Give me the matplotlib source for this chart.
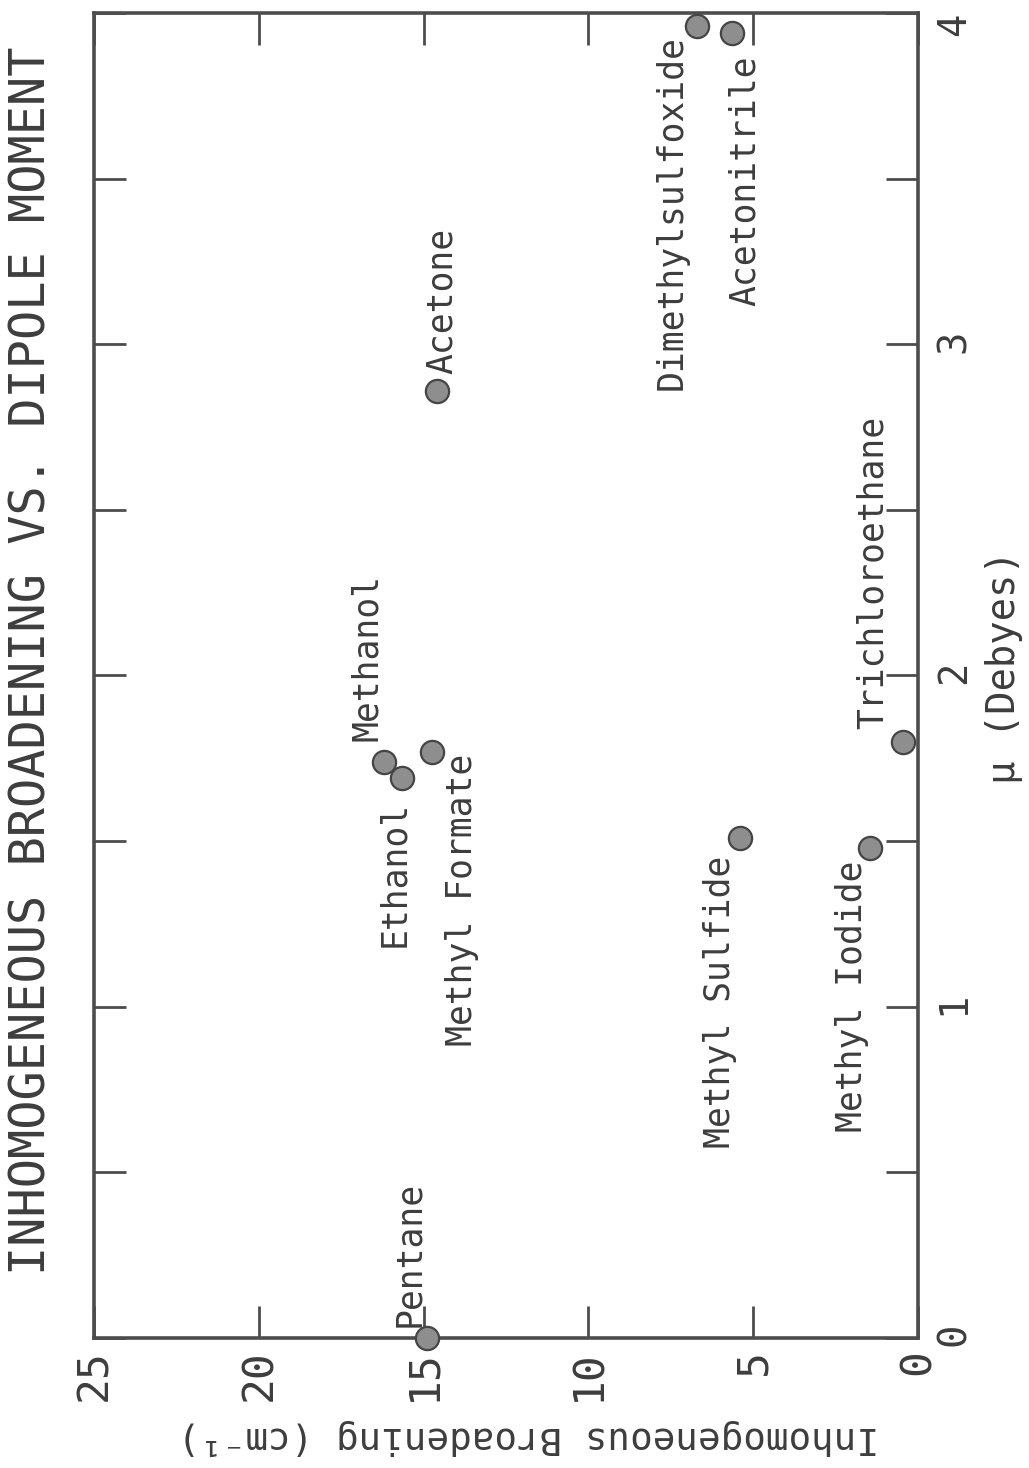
"""
Inhomogeneous broadening of each solvent against its dipole moment.
The page is laid out in landscape and turned on its side, so the
broadening axis runs along the bottom (25 -> 0) and mu runs up the right.
"""
import matplotlib
matplotlib.use("Agg")
import matplotlib.pyplot as plt
from matplotlib.ticker import MultipleLocator

solvents = [
    "Pentane", "Ethanol", "Methanol", "Methyl Formate", "Acetone",
    "Dimethylsulfoxide", "Acetonitrile", "Methyl Sulfide",
    "Methyl Iodide", "Trichloroethane",
]
broadening = [14.9, 15.65, 16.2, 14.75, 14.6, 6.7, 5.65, 5.4, 1.45, 0.45]  # cm^-1
dipole = [0.0, 1.69, 1.74, 1.77, 2.86, 3.96, 3.94, 1.51, 1.48, 1.80]      # Debyes

broadening_ticks = [0, 5, 10, 15, 20, 25]
dipole_ticks = [0, 1, 2, 3, 4]

# where each name sits next to its point: (dx, dy) in pixels, vertical align
label_place = {
    "Pentane": (-18, 11, "bottom"),
    "Ethanol": (-8, -23, "top"),
    "Methanol": (-17, 21, "bottom"),
    "Methyl Formate": (30, -2, "top"),
    "Acetone": (5, 17, "bottom"),
    "Dimethylsulfoxide": (-26, -9, "top"),
    "Acetonitrile": (13, -23, "top"),
    "Methyl Sulfide": (-20, -18, "top"),
    "Methyl Iodide": (-18, -13, "top"),
    "Trichloroethane": (-30, 13, "bottom"),
}

INK = "#3d3d3d"
FONT = ["DejaVu Sans Mono", "DejaVu Sans"]
plt.rcParams["font.family"] = FONT


def draw(out_file):
    fig = plt.figure(figsize=(10.29, 14.68), dpi=100)
    ax = fig.add_axes([0.0914, 0.0886, 0.8008, 0.9026])

    ax.scatter(broadening, dipole, s=280, facecolor="#8e8e8e",
               edgecolor="#454545", linewidth=1.6, zorder=3, clip_on=False)

    for name, b, mu in zip(solvents, broadening, dipole):
        dx, dy, va = label_place[name]
        ax.annotate(name, xy=(b, mu), xytext=(dx, dy), textcoords="offset pixels",
                    rotation=90, ha="center", va=va, fontsize=25, color=INK)

    ax.set_xlim(25, 0)
    ax.set_ylim(0, 4)

    ax.set_xticks(broadening_ticks)
    ax.set_yticks(dipole_ticks)
    ax.yaxis.set_minor_locator(MultipleLocator(0.5))

    ax.tick_params(axis="both", which="both", direction="in", length=23,
                   width=2, color="#4d4d4d", top=True, right=True,
                   labelcolor=INK)
    ax.tick_params(axis="x", labelrotation=90, pad=8, labelsize=31)
    ax.tick_params(axis="y", labelleft=False, labelright=True,
                   labelrotation=90, pad=12, labelsize=28)
    # keep the "4" at the top corner inside the page
    ax.get_yticklabels()[-1].set_verticalalignment("top")

    for spine in ax.spines.values():
        spine.set_linewidth(2.6)
        spine.set_color("#4d4d4d")

    fig.text(32 / 1029, 1 - 661 / 1468,
             "INHOMOGENEOUS BROADENING VS. DIPOLE MOMENT",
             rotation=90, ha="center", va="center", fontsize=35, color=INK)
    fig.text(1004 / 1029, 1 - 667 / 1468, "\u03bc (Debyes)",
             rotation=90, ha="center", va="center", fontsize=28, color=INK)
    fig.text(528 / 1029, 1 - 1437 / 1468,
             "Inhomogeneous Broadening (cm\u207b\u00b9)",
             rotation=180, ha="center", va="center", fontsize=27, color=INK)

    fig.savefig(out_file, dpi=100, facecolor="white")
    plt.close(fig)


if __name__ == "__main__":
    draw("out.png")
